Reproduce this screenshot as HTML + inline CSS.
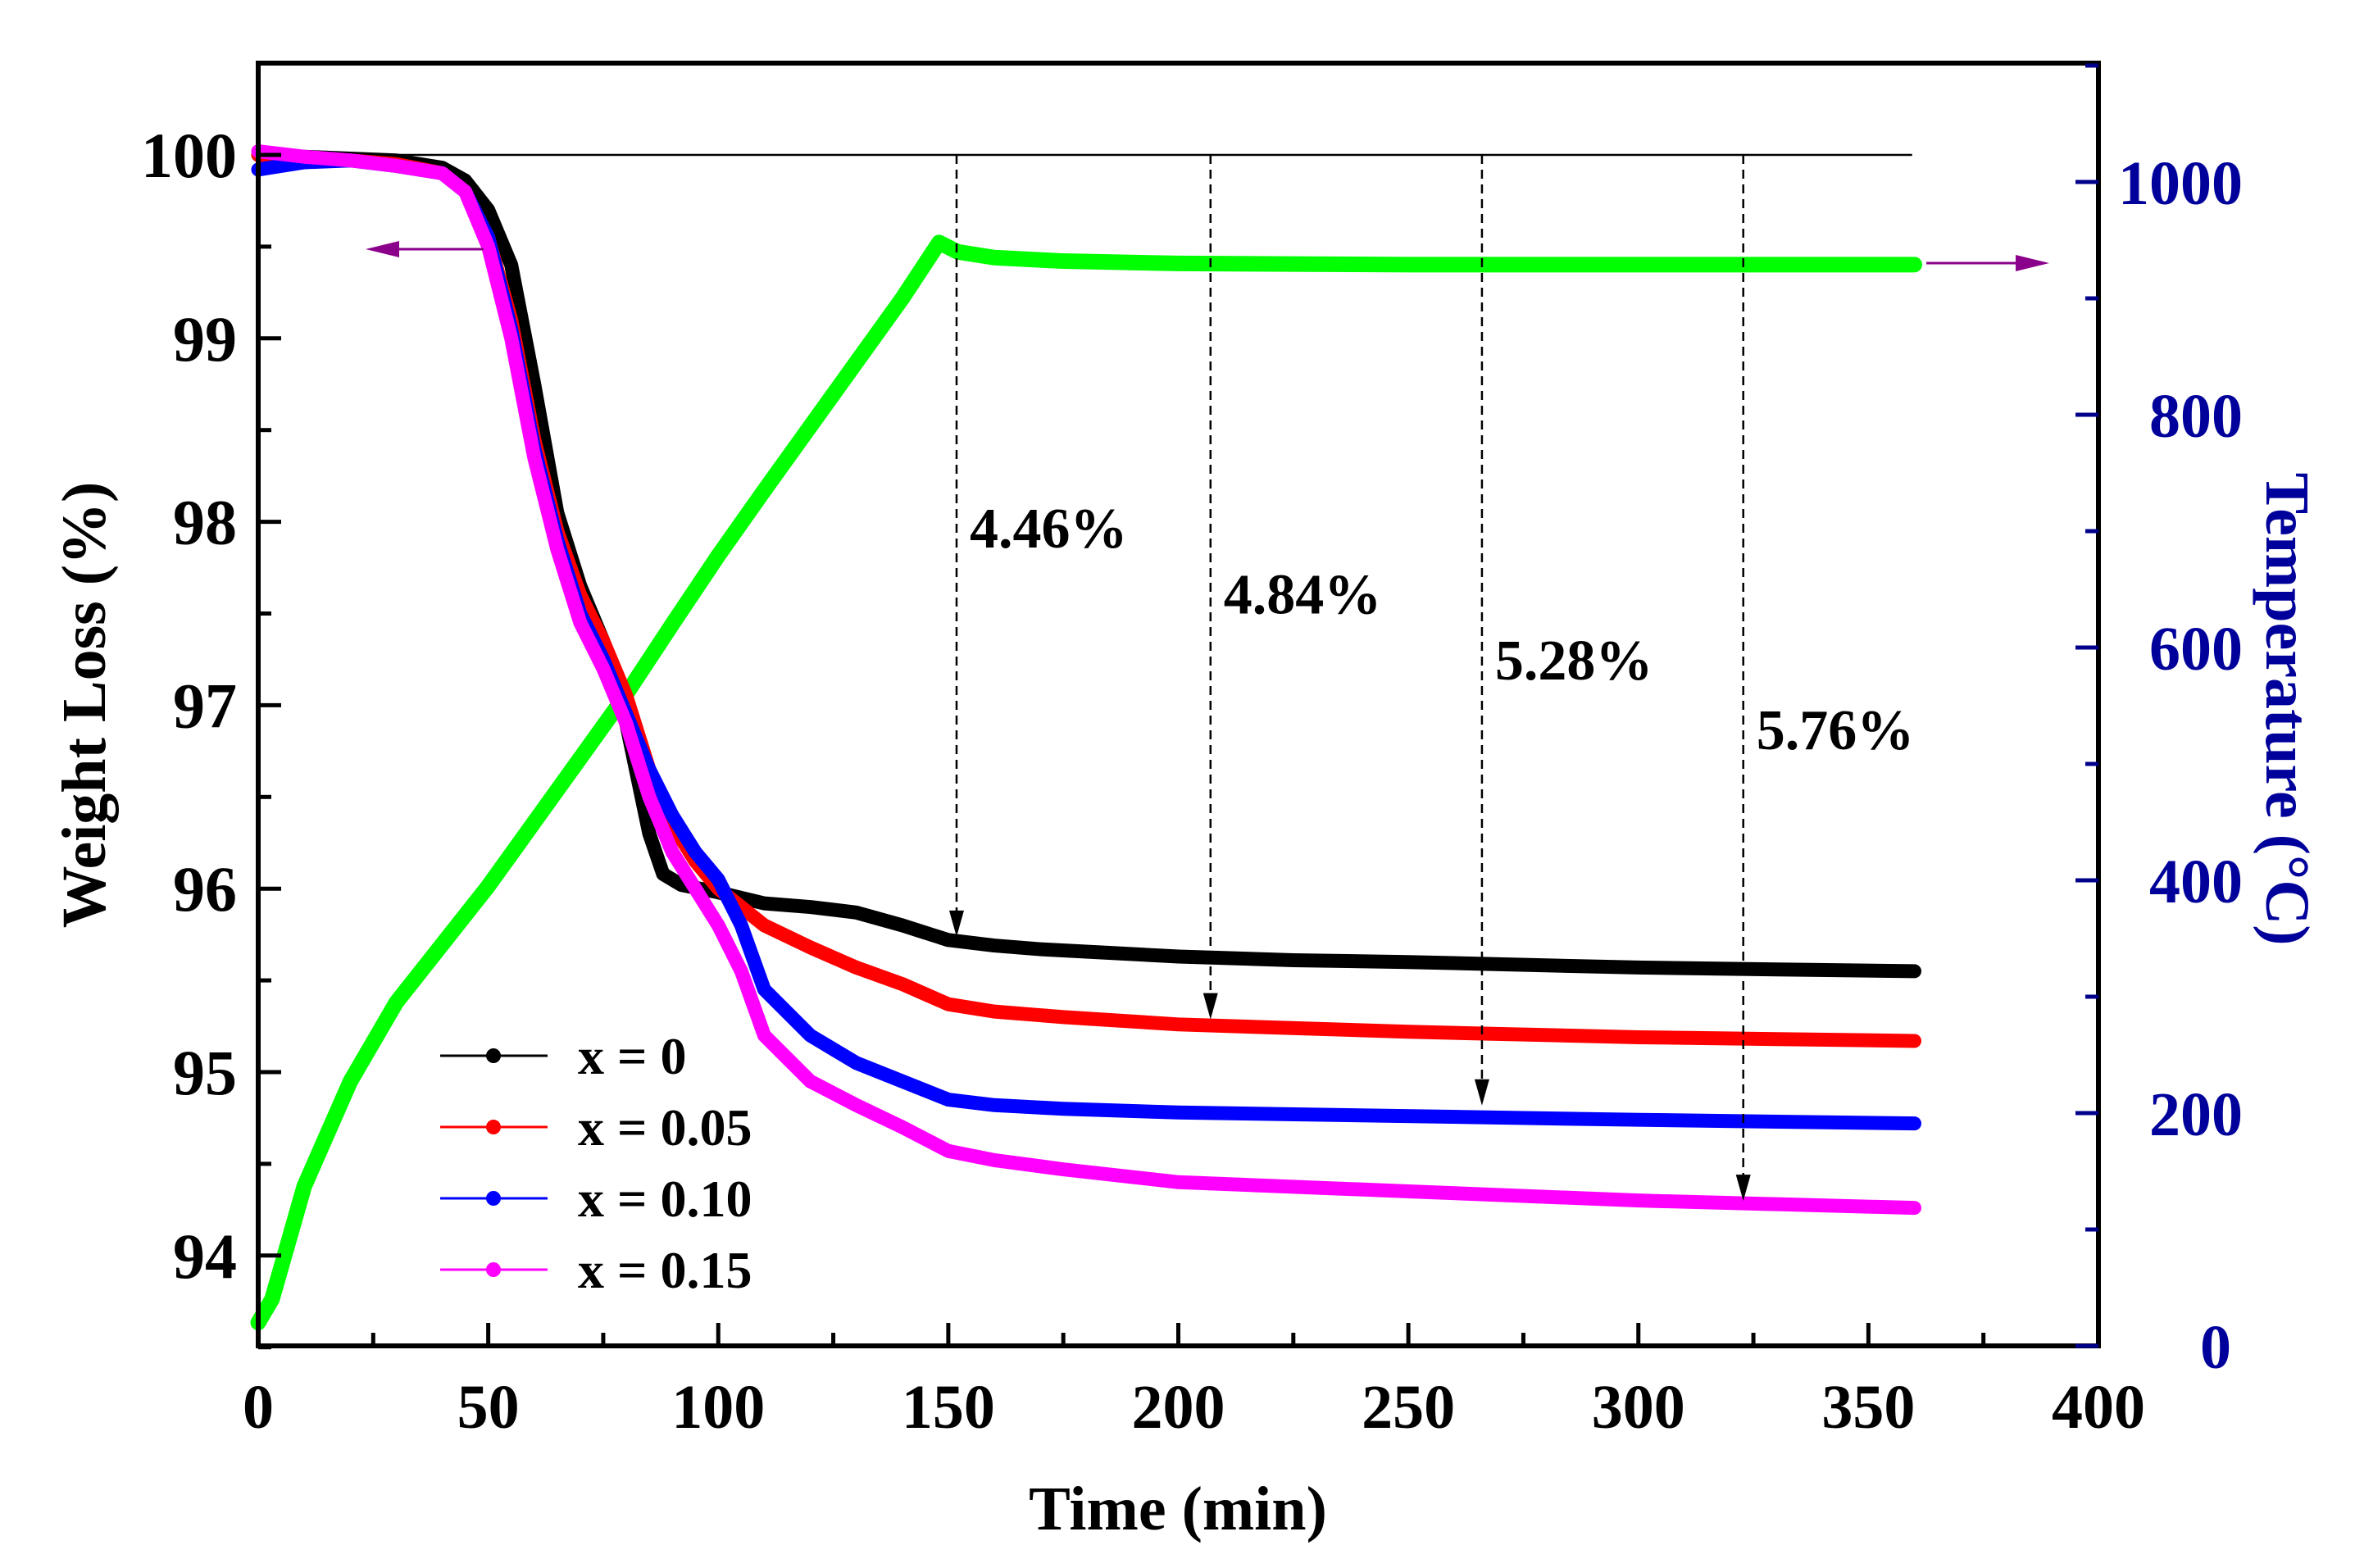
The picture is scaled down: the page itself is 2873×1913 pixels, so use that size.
<!DOCTYPE html>
<html><head><meta charset="utf-8"><style>
html,body{margin:0;padding:0;background:#fff;}
svg{display:block;font-family:"Liberation Serif",serif;font-weight:bold;}
</style></head><body>
<svg id="chart" width="2873" height="1913" viewBox="0 0 2873 1913" xmlns="http://www.w3.org/2000/svg">
<g id="marks"></g>
<g id="axes"></g>
</svg>
<script>
const timeX0 = [0,10,20,30,40,45,50,55,60,65,70,75,80,85,88,92,100,110,120,130,140,150,160,170,185,200,225,250,300,360];
const wtX0   = [100,99.99,99.98,99.97,99.93,99.86,99.7,99.4,98.75,98.05,97.65,97.35,96.9,96.3,96.08,96.02,95.98,95.92,95.9,95.87,95.8,95.72,95.69,95.67,95.65,95.63,95.61,95.6,95.57,95.55];
const timeX05 = [0,10,20,30,40,45,50,55,60,65,70,75,80,85,90,95,100,110,120,130,140,150,160,175,200,250,300,360];
const wtX05   = [100,99.98,99.97,99.95,99.9,99.8,99.55,99.1,98.45,97.95,97.6,97.35,97.05,96.65,96.35,96.15,96.0,95.8,95.68,95.57,95.48,95.37,95.33,95.3,95.26,95.22,95.19,95.17];
const timeX10 = [0,10,20,30,40,45,50,55,60,65,70,75,80,85,90,95,100,105,110,120,130,140,150,160,175,200,300,360];
const wtX10   = [99.92,99.96,99.97,99.94,99.9,99.8,99.55,99.05,98.4,97.9,97.5,97.25,96.95,96.65,96.4,96.2,96.05,95.8,95.45,95.2,95.05,94.95,94.85,94.82,94.8,94.78,94.74,94.72];
const timeX15 = [0,10,20,30,40,45,50,55,60,65,70,75,80,85,90,95,100,105,110,120,130,140,150,160,175,200,250,300,360];
const wtX15   = [100.02,99.99,99.97,99.94,99.9,99.8,99.5,99.0,98.35,97.85,97.45,97.2,96.9,96.5,96.2,96.0,95.8,95.55,95.2,94.95,94.82,94.7,94.57,94.52,94.47,94.4,94.35,94.3,94.26];
const timeT = [0,3,10,20,30,40,50,60,70,80,90,100,110,120,130,140,148,152,160,175,200,250,300,360];
const tempT = [20,40,137,227,295,345,395,450,505,560,620,679,735,790,845,900,948,940,935,932,930,929,929,929];
const xTicks = [0,50,100,150,200,250,300,350,400];
const yLeftTicks = [94,95,96,97,98,99,100];
const yRightTicks = [0,200,400,600,800,1000];
const arrowTimes = [151.8,207,266,322.8];
const arrowEnds = [95.72,95.27,94.8,94.28];
const lossLabels = ["4.46%","4.84%","5.28%","5.76%"];
const labelYs = [97.86,97.5,97.14,96.76];
const legendLabels = ["x = 0","x = 0.05","x = 0.10","x = 0.15"];
const colors = ["#000","#f00","#00f","#f0f"];

const L=315,R=2560,T=77,B=1642;
const sx=t=>L+(t/400)*(R-L);
const syL=v=>189+(100-v)*223.8;
const syR=v=>1642-v*1.42;
const NS="http://www.w3.org/2000/svg";
function mk(parent,tag,attrs){const e=document.createElementNS(NS,tag);for(const k in attrs)e.setAttribute(k,attrs[k]);parent.appendChild(e);return e;}
const marks=document.getElementById('marks'), axes=document.getElementById('axes');

let ref=mk(marks,'line',{x1:sx(0),x2:sx(359.5),y1:syL(100),y2:syL(100),stroke:'#000','stroke-width':2.5});



let tp=mk(marks,'path',{d:timeT.map((t,i)=>(i?'L':'M')+sx(t)+','+syR(tempT[i])).join(''),fill:'none',stroke:'#00ff00','stroke-width':19,'stroke-linecap':'round','stroke-linejoin':'round'});



const series=[[timeX0,wtX0],[timeX05,wtX05],[timeX10,wtX10],[timeX15,wtX15]];
const snames=['weight-curve-x0','weight-curve-x005','weight-curve-x010','weight-curve-x015'];
series.forEach((s,k)=>{
  const p=mk(marks,'path',{d:s[0].map((t,i)=>(i?'L':'M')+sx(t)+','+syL(s[1][i])).join(''),fill:'none',stroke:colors[k],'stroke-width':17,'stroke-linecap':'round','stroke-linejoin':'round'});
  
  
});

arrowTimes.forEach((t,i)=>{
  const x=sx(t),y2=syL(arrowEnds[i]);
  const l=mk(marks,'line',{x1:x,x2:x,y1:syL(100),y2:y2-28,stroke:'#000','stroke-width':2.5,'stroke-dasharray':'11,7'});
  
  
  const h=mk(marks,'polygon',{points:`${x-9},${y2-36} ${x+9},${y2-36} ${x},${y2-4}`,fill:'#000'});
  
  
  const tx=mk(marks,'text',{x:x+16,y:syL(labelYs[i]),'font-size':70,fill:'#000'});
  tx.textContent=lossLabels[i];
  
  
});

let a1=mk(marks,'line',{x1:590,x2:470,y1:304,y2:304,stroke:'#8b008b','stroke-width':3});


let a1h=mk(marks,'polygon',{points:'446,304 487,294 487,314',fill:'#8b008b'});


let a2=mk(marks,'line',{x1:2350,x2:2470,y1:321,y2:321,stroke:'#8b008b','stroke-width':3});


let a2h=mk(marks,'polygon',{points:'2500,321 2459,311 2459,331',fill:'#8b008b'});



legendLabels.forEach((lab,i)=>{
  const y=1288+i*87;
  const g=mk(marks,'g',{});
  
  
  mk(g,'line',{x1:537,x2:668,y1:y,y2:y,stroke:colors[i],'stroke-width':3});
  mk(g,'circle',{cx:602,cy:y,r:9,fill:colors[i]});
  const t=mk(g,'text',{x:705,y:y+22,'font-size':64,fill:'#000'});t.textContent=lab;
});

let fr=mk(axes,'rect',{x:L,y:T,width:R-L,height:B-T,fill:'none',stroke:'#000','stroke-width':6});



for(let t=0;t<=400;t+=25){const maj=t%50===0;mk(axes,'line',{x1:sx(t),x2:sx(t),y1:B,y2:B-(maj?28:16),stroke:'#000','stroke-width':5});}
xTicks.forEach(t=>{const e=mk(axes,'text',{x:sx(t),y:1742,'text-anchor':'middle','font-size':76,fill:'#000'});e.textContent=t;
  
  });
for(let v=93.5;v<=100.5;v+=0.5){const maj=v%1===0;mk(axes,'line',{x1:L,x2:L+(maj?28:16),y1:syL(v),y2:syL(v),stroke:'#000','stroke-width':5});}
yLeftTicks.forEach(v=>{const e=mk(axes,'text',{x:289,y:syL(v)+27,'text-anchor':'end','font-size':78,fill:'#000'});e.textContent=v;
  
  });
for(let v=0;v<=1100;v+=100){const maj=v%200===0;mk(axes,'line',{x1:R,x2:R-(maj?28:16),y1:syR(v),y2:syR(v),stroke:'#00008b','stroke-width':5});}
yRightTicks.forEach(v=>{const e=mk(axes,'text',{x:v===0?2722:2736,y:syR(v)+27,'text-anchor':'end','font-size':76,fill:'#00009b'});e.textContent=v;
  
  });

let xt=mk(axes,'text',{x:1437,y:1866,'text-anchor':'middle','font-size':76,fill:'#000'});xt.textContent='Time (min)';


let yl=mk(axes,'text',{x:0,y:0,'text-anchor':'middle','font-size':76,fill:'#000',transform:'translate(128,860) rotate(-90)'});yl.textContent='Weight Loss (%)';


let yr=mk(axes,'text',{x:0,y:0,'text-anchor':'middle','font-size':76,fill:'#00009b',transform:'translate(2765,865) rotate(90)'});yr.textContent='Temperature (°C)';


</script>
</body></html>
